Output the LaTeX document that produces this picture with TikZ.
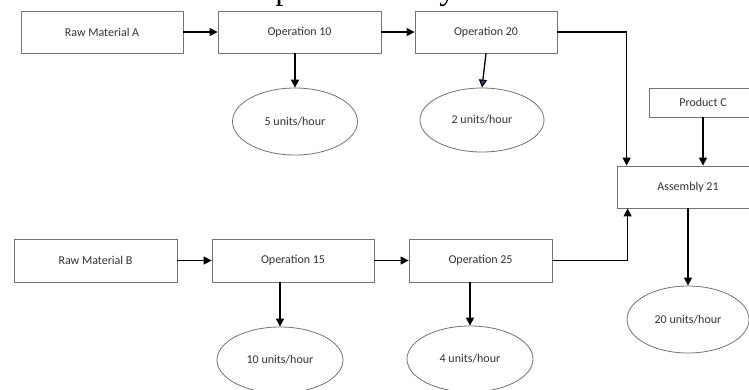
\documentclass[tikz,border=0pt]{standalone}
\usepackage{fontspec}
\setmainfont{Carlito}
\newfontfamily\titlefont{Liberation Serif}
\usetikzlibrary{shapes.geometric,arrows.meta}

\tikzset{
  stepbox/.style={draw=black!55, line width=0.8pt, rectangle, inner sep=0pt,
    text=black!80, font=\fontsize{12}{14}\selectfont},
  ratebubble/.style={draw=black!55, line width=0.8pt, ellipse, inner sep=0pt,
    text=black!80, font=\fontsize{12}{14}\selectfont},
  flow/.style={draw=black, line width=1.3pt,
    -{Triangle[length=8pt,width=8pt]}},
}

\begin{document}
\begin{tikzpicture}[x=1pt,y=-1pt]
  \clip (0,0) rectangle (749,389);
  \fill[white] (0,0) rectangle (749,389);

  % heading, mostly above the visible area
  \node[anchor=base west, inner sep=0pt, font=\titlefont\fontsize{33}{36}\selectfont]
    (heading) at (222,-1) {Simple Assembly};

  % line A
  \node[stepbox, minimum width=162pt, minimum height=42pt] (rma) at (102,32) {Raw Material A};
  \node[stepbox, minimum width=163pt, minimum height=42pt] (op10) at (299.5,32) {Operation 10};
  \node[stepbox, minimum width=142pt, minimum height=42pt] (op20) at (486,32) {Operation 20};
  \node[ratebubble, minimum width=125pt, minimum height=67pt] (r5) at (295,121.5) {5 units/hour};
  \node[ratebubble, minimum width=124pt, minimum height=64pt] (r2) at (482,120) {2 units/hour};

  % line B
  \node[stepbox, minimum width=163pt, minimum height=43pt] (rmb) at (95.5,260.5) {Raw Material B};
  \node[stepbox, minimum width=162pt, minimum height=43pt] (op15) at (293,260.5) {Operation 15};
  \node[stepbox, minimum width=143pt, minimum height=43pt] (op25) at (480.5,260.5) {Operation 25};
  \node[ratebubble, minimum width=126pt, minimum height=66pt] (r10) at (280,360) {10 units/hour};
  \node[ratebubble, minimum width=126pt, minimum height=66pt] (r4) at (470,359) {4 units/hour};

  % assembly
  \node[stepbox, minimum width=108pt, minimum height=29pt] (prodc) at (703,102.5) {Product C};
  \node[stepbox, minimum width=142pt, minimum height=42pt] (asm) at (688,187) {Assembly 21};
  \node[ratebubble, minimum width=122pt, minimum height=67pt] (r20) at (688,319.5) {20 units/hour};

  % flows
  \draw[flow] (rma) -- (op10);
  \draw[flow] (op10) -- (op20);
  \draw[flow] (r5.north |- op10.south) -- (r5.north);
  \draw[flow, -{Triangle[length=8pt,width=8pt,fill={rgb,255:red,60;green,80;blue,140}]}]
    (op20.south) -- (r2.north);
  \draw[flow] (op20.east) -| ([xshift=10pt]asm.north west);
  \draw[flow] (prodc.south) -- (prodc.south |- asm.north);

  \draw[flow] (rmb) -- (op15);
  \draw[flow] (op15) -- (op25);
  \draw[flow] (r10.north |- op15.south) -- (r10.north);
  \draw[flow] (r4.north |- op25.south) -- (r4.north);
  \draw[flow] (op25.east) -| ([xshift=11pt]asm.south west);

  \draw[flow] (asm.south) -- (r20.north);
\end{tikzpicture}
\end{document}
